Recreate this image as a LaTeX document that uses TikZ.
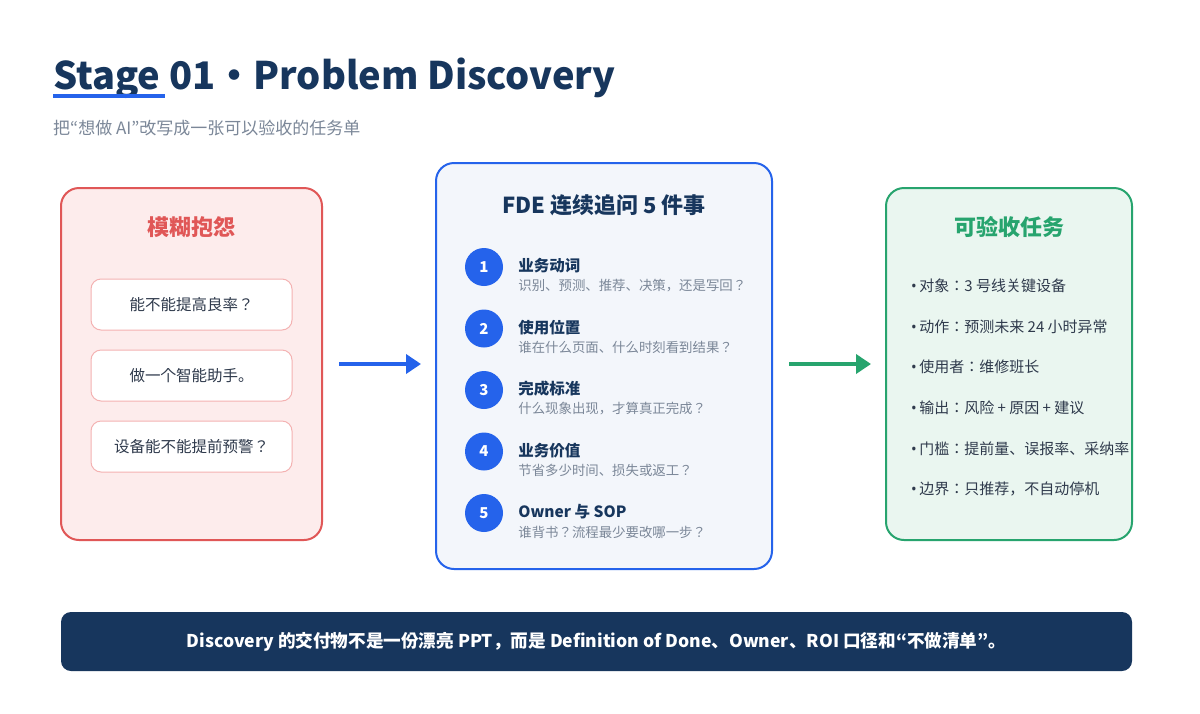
\documentclass[tikz,border=0pt]{standalone}
\usepackage{fontspec}
\setmainfont{Noto Sans CJK JP}
\newfontfamily\latin{Noto Sans}
\usetikzlibrary{arrows.meta}
\definecolor{navy}{HTML}{17365D}
\definecolor{ink}{HTML}{2F3A4C}
\definecolor{mute}{HTML}{7B8798}
\definecolor{brand}{HTML}{2563EB}
\definecolor{warn}{HTML}{E05757}
\definecolor{warnfill}{HTML}{FDECEC}
\definecolor{warnline}{HTML}{F4B2B2}
\definecolor{midfill}{HTML}{F3F6FB}
\definecolor{ok}{HTML}{27A46E}
\definecolor{okfill}{HTML}{EAF6F0}
\newcommand{\fs}[1]{\fontsize{#1}{#1}\selectfont}
\begin{document}
\begin{tikzpicture}[x=1pt,y=-1pt,
    panel/.style={draw,line width=2pt,rounded corners=18pt,inner sep=0pt},
    askbox/.style={draw=warnline,fill=white,line width=1pt,rounded corners=10pt,
        minimum width=201pt,minimum height=51pt,text=ink,font=\fs{15.5}},
    qnum/.style={circle,fill=brand,minimum size=38pt,inner sep=0pt,text=white,font=\fs{15}\bfseries},
    qtitle/.style={anchor=west,inner sep=0pt,text=navy,font=\fs{15.5}\bfseries},
    qsub/.style={anchor=west,inner sep=0pt,text=mute,font=\fs{13.4}},
    task/.style={anchor=west,inner sep=0pt,text=ink,font=\fs{15}},
    flow/.style={line width=4.5pt,-{Triangle[length=15pt,width=19pt]}}
]
    \useasboundingbox[fill=white] (0,0) rectangle (1200,713);
    % heading
    \node[anchor=base west,inner sep=0pt,text=navy,font=\fs{38}\bfseries] (head) at (53,89) {Stage 01・Problem Discovery};
    \fill[brand] (53,94) rectangle (165,98);% underline
    \node[anchor=west,inner sep=0pt,text=mute,font=\fs{17}] (lead) at (53,128) {把“想做 AI”改写成一张可以验收的任务单};
    % three panels
    \node[panel,draw=warn,fill=warnfill,minimum width=261pt,minimum height=352pt] (vague) at (191.5,364) {};
    \node[panel,draw=brand,fill=midfill,minimum width=336pt,minimum height=406pt] (ask) at (604,366) {};
    \node[panel,draw=ok,fill=okfill,minimum width=246pt,minimum height=352pt] (spec) at (1009,364) {};
    \node[text=warn,font=\fs{22}\bfseries] (vaguet) at (191.5,227) {模糊抱怨};
    \node[text=navy,font=\fs{22}\bfseries] (askt) at (604,205) {FDE 连续追问 5 件事};
    \node[text=ok,font=\fs{22}\bfseries] (spect) at (1009,227) {可验收任务};
    % complaints
    \node[askbox] (c1) at (191.5,304.5) {能不能提高良率？};
    \node[askbox] (c2) at (191.5,375.5) {做一个智能助手。};
    \node[askbox] (c3) at (191.5,446.5) {设备能不能提前预警？};
    % five questions
    \foreach \n/\ttl/\sub in {1/业务动词/识别、预测、推荐、决策，还是写回？,
        2/使用位置/谁在什么页面、什么时刻看到结果？,
        3/完成标准/什么现象出现，才算真正完成？,
        4/业务价值/节省多少时间、损失或返工？,
        5/Owner 与 SOP/谁背书？流程最少要改哪一步？}{
        \node[qnum] (q\n) at (484,{267+61.5*(\n-1)}) {\n};
        \node[qtitle] (qt\n) at ([xshift=15pt,yshift=1pt]q\n.east) {\ttl};
        \node[qsub] (qs\n) at ([xshift=15pt,yshift=-19pt]q\n.east) {\sub};
    }
    % task card
    \foreach \i/\txt in {1/对象：3 号线关键设备,2/动作：预测未来 24 小时异常,3/使用者：维修班长,
        4/输出：风险 + 原因 + 建议,5/门槛：提前量、误报率、采纳率,6/边界：只推荐，不自动停机}
        \node[task] (t\i) at (911,{286+40.6*(\i-1)}) {{\latin •}\,\txt};
    % arrows
    \draw[flow,brand] ([xshift=16pt]vague.east) -- ([xshift=-14pt]ask.west |- vague.east);
    \draw[flow,ok] ([xshift=16pt]ask.east |- spec.west) -- ([xshift=-14pt]spec.west);
    % banner
    \node[fill=navy,rounded corners=10pt,minimum width=1071pt,minimum height=59pt,
        text=white,font=\fs{17.6}\bfseries] (note) at (596.5,641.5)
        {Discovery 的交付物不是一份漂亮 PPT，而是 Definition of Done、Owner、ROI 口径和“不做清单”。};
\end{tikzpicture}
\end{document}
